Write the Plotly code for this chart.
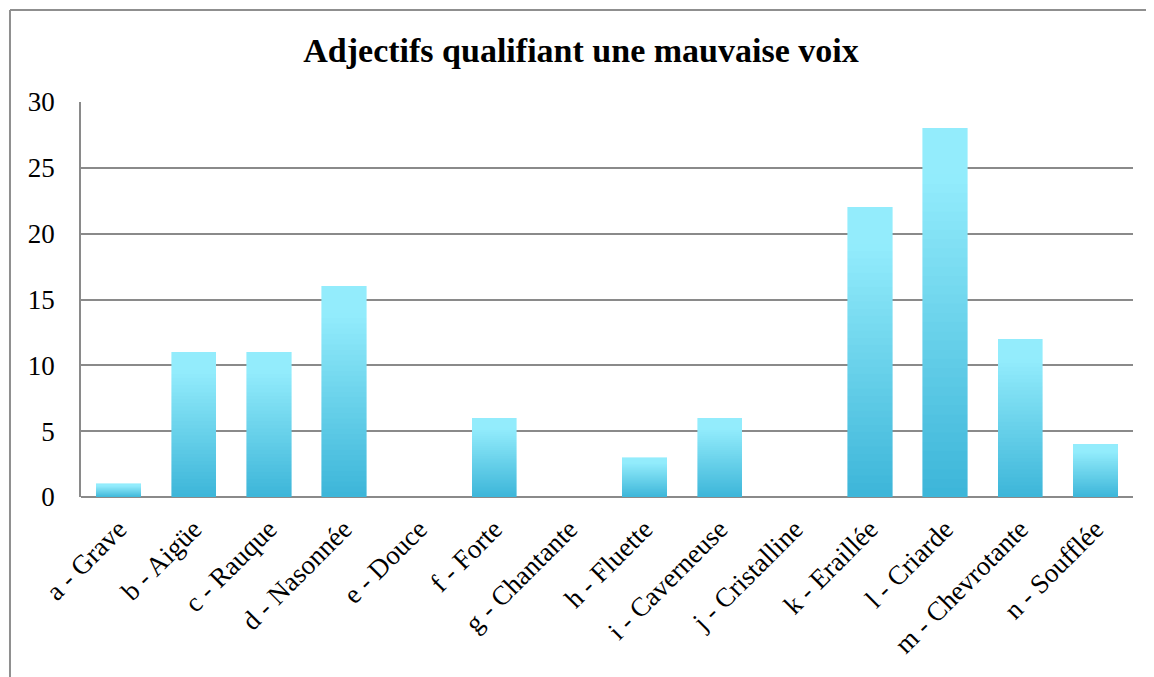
import plotly.graph_objects as go

categories = ["a - Grave", "b - Aigüe", "c - Rauque", "d - Nasonnée", "e - Douce",
              "f - Forte", "g - Chantante", "h - Fluette", "i - Caverneuse",
              "j - Cristalline", "k - Eraillée", "l - Criarde", "m - Chevrotante",
              "n - Soufflée"]
counts = [1, 11, 11, 16, 0, 6, 0, 3, 6, 0, 22, 28, 12, 4]

title = "Adjectifs qualifiant une mauvaise voix"
y_ticks = [0, 5, 10, 15, 20, 25, 30]

# gradient: dark blue at the foot of each bar, light cyan at the top
bottom_rgb = (60, 181, 216)
top_rgb = (147, 236, 252)
n_steps = 40


def mix(t):
    c = [round(b + (a - b) * t) for a, b in zip(top_rgb, bottom_rgb)]
    return f"rgb({c[0]},{c[1]},{c[2]})"


fig = go.Figure()
for i in range(n_steps):
    t = min(1.0, (i + 0.5) / n_steps * 1.15)
    col = mix(t)
    fig.add_trace(go.Bar(
        x=categories,
        y=[v / n_steps for v in counts],
        marker=dict(color=col, line=dict(color=col, width=0.6)),
        showlegend=False,
        hoverinfo="skip" if i else None,
        customdata=counts,
        hovertemplate="%{x}: %{customdata}<extra></extra>",
    ))

grid_col = "#8a8a8a"
serif = "Liberation Serif, DejaVu Serif, serif"

# the page body has an 8px margin, so the figure is 8px smaller than the window
fig.update_layout(
    barmode="stack",
    bargap=0.41,
    width=1146, height=669,
    margin=dict(l=73, r=21, t=94, b=180),
    paper_bgcolor="white", plot_bgcolor="white",
    title=dict(text=f"<b>{title}</b>", x=0.5, xanchor="center",
               y=0.937, yanchor="middle",
               font=dict(family=serif, size=34, color="black")),
    font=dict(family=serif, color="black"),
    shapes=[
        dict(type="line", xref="paper", yref="paper",
             x0=-0.0675, x1=1.1, y0=1.233, y1=1.233,
             line=dict(color="#8f8f8f", width=2)),
        dict(type="line", xref="paper", yref="paper",
             x0=-0.0675, x1=-0.0675, y0=1.233, y1=-0.5,
             line=dict(color="#8f8f8f", width=2)),
    ],
)
fig.update_xaxes(
    tickangle=-45, tickfont=dict(size=27), showgrid=False,
    showline=False, ticks="", ticklabelstandoff=10,
)
fig.update_yaxes(
    range=[0, 30], tickvals=y_ticks, tickfont=dict(size=27),
    showgrid=True, gridcolor=grid_col, gridwidth=1.6,
    zeroline=True, zerolinecolor=grid_col, zerolinewidth=1.6,
    showline=True, linecolor=grid_col, linewidth=1.6,
    ticks="", ticklabelstandoff=19,
)

fig.write_html("out.html")
